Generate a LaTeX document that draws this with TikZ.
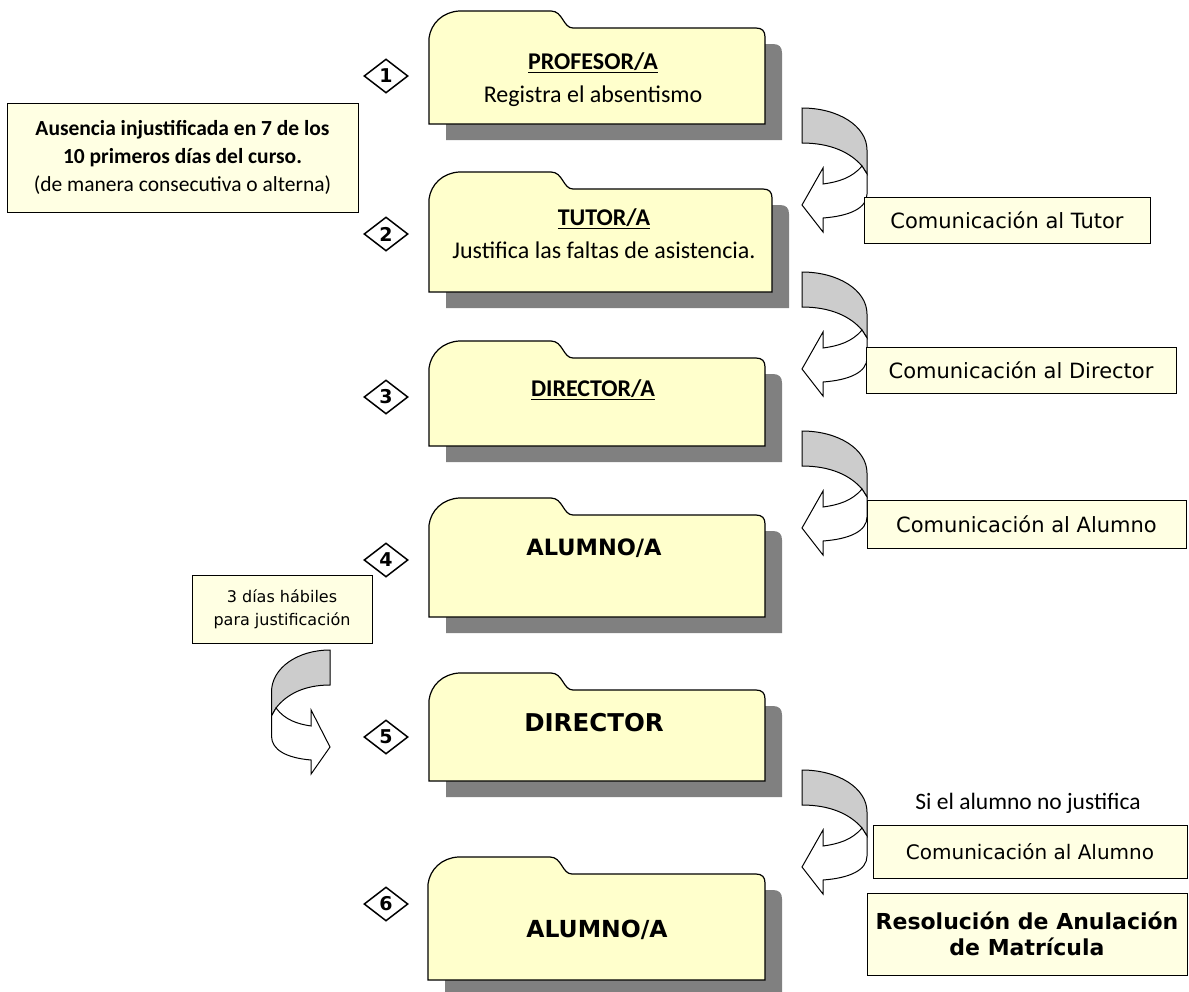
\documentclass[tikz,border=0pt]{standalone}
\usepackage{fontspec}
\setmainfont{Carlito}
\newfontfamily\verdana{DejaVu Sans}
\usetikzlibrary{shapes.geometric}

\definecolor{folderyellow}{HTML}{FFFFCC}
\definecolor{noteyellow}{HTML}{FFFFE3}
\definecolor{shadowgray}{HTML}{808080}
\definecolor{ribbongray}{HTML}{CCCCCC}

% folder outline, body top left at (0,0): width, height
\newcommand{\folderpath}[2]{(0,#2) -- (0,10) .. controls (2,-5) and (14,-16) .. (30,-17) -- (122,-17) .. controls (134,-17) and (134,0) .. (144,0) -- (#1-9,0) .. controls (#1-3,0) and (#1,3) .. (#1,9) -- (#1,#2) -- cycle}

% x, y, width, height
\newcommand{\drawfolder}[4]{%
  \fill[shadowgray, shift={(#1+17,#2+16)}] \folderpath{#3}{#4};
  \draw[line width=1.2pt, fill=folderyellow, shift={(#1,#2)}] \folderpath{#3}{#4};
}

\tikzset{
  stage/.style = {align=center, inner sep=0pt, font=\fontsize{24}{33}\selectfont},
  bigstage/.style = {inner sep=0pt, font=\verdana\bfseries\fontsize{#1}{#1}\selectfont},
  note/.style = {draw, line width=1pt, fill=noteyellow, align=center, inner sep=0pt},
  comm/.style = {font=\verdana\fontsize{21}{26}\selectfont},
  num/.style = {draw, line width=1.5pt, fill=white, diamond, minimum width=44pt, minimum height=34pt, inner sep=0pt, font=\verdana\bfseries\fontsize{19}{19}\selectfont},
  uturn/.pic = {
    \draw[line width=1pt, fill=ribbongray] (0,0) .. controls (36,0) and (65,18) .. (65,42) -- (65,66) -- (60,58) .. controls (48,44) and (28,35) .. (0,35) -- cycle;
    \draw[line width=1pt, fill=white] (60,58) .. controls (50,70) and (36,74) .. (21,76) -- (21,60) -- (0,97) -- (21,124) -- (21,110) .. controls (48,108) and (65,100) .. (65,86) -- (65,66) -- cycle;
  }
}

\begin{document}
\begin{tikzpicture}[x=1pt, y=-1pt]

\useasboundingbox (0,0) rectangle (1189,991);

% Folders
\drawfolder{429}{28}{336}{96}
\drawfolder{429}{189}{343}{103}
\drawfolder{429}{358}{336}{88}
\drawfolder{429}{515}{336}{102}
\drawfolder{429}{690}{336}{91}
\drawfolder{428}{874}{337}{106}

\node[stage] (profesor) at (593,80) {\textbf{\underline{PROFESOR/A}}\\Registra el absentismo};
\node[stage] (tutor) at (604,234) {\textbf{\underline{TUTOR/A}}\\Justifica las faltas de asistencia.};
\node[stage] (director) at (593,390) {\textbf{\underline{DIRECTOR/A}}};
\node[bigstage=22.5] (alumno) at (594,548) {ALUMNO/A};
\node[bigstage=24.5] (directorb) at (594,723) {DIRECTOR};
\node[bigstage=23.5] (alumnob) at (597,930) {ALUMNO/A};

% Steps
\foreach \n/\y in {1/76, 2/234, 3/397, 4/560, 5/737, 6/904} {
  \node[num] (d\n) at (386,\y) {\n};
}

% Arrows
\foreach \y in {108, 272, 431, 770} {
  \pic at (802,\y) {uturn};
}
\pic[xscale=-0.9] at (330,650) {uturn};

% Notes
\node[note, minimum width=351pt, minimum height=109pt, font=\fontsize{21.5}{28}\selectfont] (ausencia) at (182.5,157.5) {\textbf{Ausencia injustificada en 7 de los}\\\textbf{10 primeros días del curso.}\\(de manera consecutiva o alterna)};
\node[note, minimum width=180pt, minimum height=68pt, font=\verdana\fontsize{16}{23}\selectfont] (plazo) at (282,609) {3 días hábiles\\para justificación};

\node[note, comm, minimum width=286pt, minimum height=46pt] (comtutor) at (1007,220) {Comunicación al Tutor};
\node[note, comm, minimum width=310pt, minimum height=46pt] (comdirector) at (1021,370) {Comunicación al Director};
\node[note, comm, minimum width=319pt, minimum height=48pt] (comalumno) at (1026.5,524) {Comunicación al Alumno};

\node[inner sep=0pt, font=\fontsize{23.5}{28}\selectfont] (nojust) at (1028,803) {Si el alumno no justifica};
\node[note, comm, font=\verdana\fontsize{20}{24}\selectfont, minimum width=314pt, minimum height=53pt] (comalumnob) at (1030,851.5) {Comunicación al Alumno};
\node[note, minimum width=320pt, minimum height=82pt, font=\verdana\bfseries\fontsize{22}{26}\selectfont] (resolucion) at (1027,934) {Resolución de Anulación\\de Matrícula};

\end{tikzpicture}
\end{document}
